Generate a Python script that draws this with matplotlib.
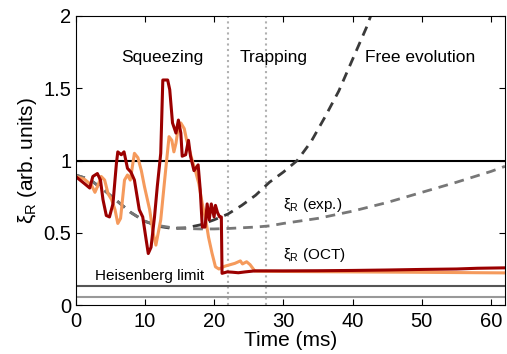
import numpy as np
import matplotlib
matplotlib.use("Agg")
import matplotlib.pyplot as plt

plt.rcParams['font.family'] = ['Liberation Sans', 'DejaVu Sans']
plt.rcParams['mathtext.fontset'] = 'custom'
plt.rcParams['mathtext.rm'] = 'Liberation Sans'
plt.rcParams['mathtext.it'] = 'Liberation Sans'

# ============================
# Datos
# ============================
t_red = [0, 1.3, 2.05, 2.5, 3.15, 3.6, 3.96, 4.44, 4.9, 5.4, 5.9, 6.1, 6.6, 7.0, 7.5,
         8.0, 8.5, 9.2, 9.7, 10.2, 10.5, 10.9, 11.4, 11.8, 12.3, 12.6, 13.3, 13.6,
         14.0, 14.5, 14.85, 15.2, 15.4, 15.9, 16.3, 16.6, 17.1, 17.7, 18.0, 18.3,
         18.7, 19.0, 19.3, 19.6, 20.0, 20.2, 20.5, 20.8, 21.05, 21.15, 21.9, 22.6,
         23.5, 24.5, 25.9, 30, 35, 40, 45, 50, 55, 58, 62]
xi_red = [0.89, 0.84, 0.81, 0.89, 0.91, 0.865, 0.73, 0.62, 0.61, 0.70, 0.98, 1.06,
          1.04, 1.06, 0.946, 0.92, 0.865, 0.66, 0.61, 0.45, 0.357, 0.40, 0.61, 0.82,
          1.05, 1.557, 1.557, 1.49, 1.26, 1.19, 1.28, 1.19, 1.03, 1.04, 1.14, 1.03,
          0.93, 0.97, 0.80, 0.54, 0.54, 0.70, 0.59, 0.70, 0.61, 0.69, 0.64, 0.61,
          0.61, 0.22, 0.23, 0.228, 0.224, 0.23, 0.237, 0.237, 0.238, 0.24, 0.243,
          0.247, 0.25, 0.255, 0.258]

t_orange = [0, 1.3, 2.3, 2.8, 3.25, 3.7, 4.2, 4.7, 5.2, 5.7, 6.1, 6.5, 7.07, 7.5,
            7.9, 8.5, 9.0, 9.5, 9.95, 10.7, 11.2, 11.6, 12.3, 13.0, 13.5, 13.9,
            14.2, 14.5, 14.85, 15.2, 15.7, 16.0, 16.4, 16.85, 17.3, 17.8, 18.3,
            18.8, 19.2, 19.7, 20.2, 20.7, 21.6, 23.0, 23.8, 24.1, 24.7, 25.2, 25.9,
            30, 40, 50, 62]
xi_orange = [0.89, 0.87, 0.83, 0.78, 0.83, 0.89, 0.865, 0.77, 0.73, 0.66, 0.565,
             0.60, 0.865, 0.90, 0.865, 1.05, 1.02, 0.93, 0.82, 0.66, 0.50, 0.415,
             0.59, 0.93, 1.165, 1.14, 1.06, 1.12, 1.234, 1.26, 1.22, 1.15, 1.08, 1.0,
             0.93, 0.84, 0.70, 0.59, 0.47, 0.36, 0.265, 0.25, 0.27, 0.289, 0.306,
             0.285, 0.30, 0.28, 0.235, 0.233, 0.23, 0.227, 0.223]

t_exp_dark = [0, 2, 4, 6, 8, 10, 12, 14, 16, 18, 20, 22, 24, 26, 28, 30, 32, 34,
              36, 38, 40, 42, 43]
xi_exp_dark = [0.90, 0.87, 0.80, 0.72, 0.64, 0.58, 0.545, 0.53, 0.535, 0.555, 0.59,
               0.63, 0.69, 0.76, 0.85, 0.92, 1.0, 1.13, 1.3, 1.48, 1.7, 1.92, 2.05]

t_exp_light = [0, 2, 4, 6, 8, 10, 12, 14, 16, 18, 20, 22, 24, 26, 28, 30, 35, 40,
               45, 50, 55, 60, 62]
xi_exp_light = [0.90, 0.87, 0.80, 0.72, 0.64, 0.58, 0.55, 0.535, 0.53, 0.527, 0.527,
                0.53, 0.535, 0.54, 0.548, 0.565, 0.60, 0.65, 0.71, 0.78, 0.85, 0.925,
                0.96]

t_fases = [22, 27.5]
heisenberg = [0.135, 0.055]

# ============================
# Graficar
# ============================
fig = plt.figure(figsize=(5.07, 3.54), dpi=100)
ax = fig.add_axes([0.149, 0.138, 0.847, 0.817])

for tf in t_fases:
    ax.axvline(tf, color='#b0b0b0', ls=':', lw=1.5)

ax.axhline(1, color='k', lw=1.5)
ax.axhline(heisenberg[0], color='#555555', lw=1.5)
ax.axhline(heisenberg[1], color='#999999', lw=1.5)

ax.plot(t_exp_dark, xi_exp_dark, color='#3a3a3a', lw=2, ls=(0, (3.5, 2.5)))
ax.plot(t_exp_light, xi_exp_light, color='#777777', lw=2, ls=(0, (3.5, 2.5)))

ax.plot(t_orange, xi_orange, color='#f59a5c', lw=2.2)
ax.plot(t_red, xi_red, color='#9b0000', lw=2.2)

ax.text(12.5, 1.71, 'Squeezing', fontsize=12.5, ha='center', va='center')
ax.text(28.6, 1.71, 'Trapping', fontsize=12.5, ha='center', va='center')
ax.text(49.8, 1.71, 'Free evolution', fontsize=12.5, ha='center', va='center')
ax.text(2.8, 0.2, 'Heisenberg limit', fontsize=11, ha='left', va='center')
ax.text(30.0, 0.69, r'$\xi_\mathrm{R}$ (exp.)', fontsize=11, ha='left', va='center')
ax.text(30.0, 0.345, r'$\xi_\mathrm{R}$ (OCT)', fontsize=11, ha='left', va='center')

ax.set_xlim(0, 62)
ax.set_ylim(0, 2)
ax.set_xticks([0, 10, 20, 30, 40, 50, 60])
ax.set_yticks([0, 0.5, 1, 1.5, 2])
ax.set_yticklabels(['0', '0.5', '1', '1.5', '2'])
ax.tick_params(direction='in', top=True, right=True, labelsize=14.5, length=4)
ax.tick_params(axis='x', pad=5)
ax.tick_params(axis='y', pad=3)
ax.set_xlabel('Time (ms)', fontsize=15, labelpad=0)
ax.set_ylabel(r'$\xi_\mathrm{R}$ (arb. units)', fontsize=15, labelpad=3)

plt.savefig('out.png', dpi=100)
